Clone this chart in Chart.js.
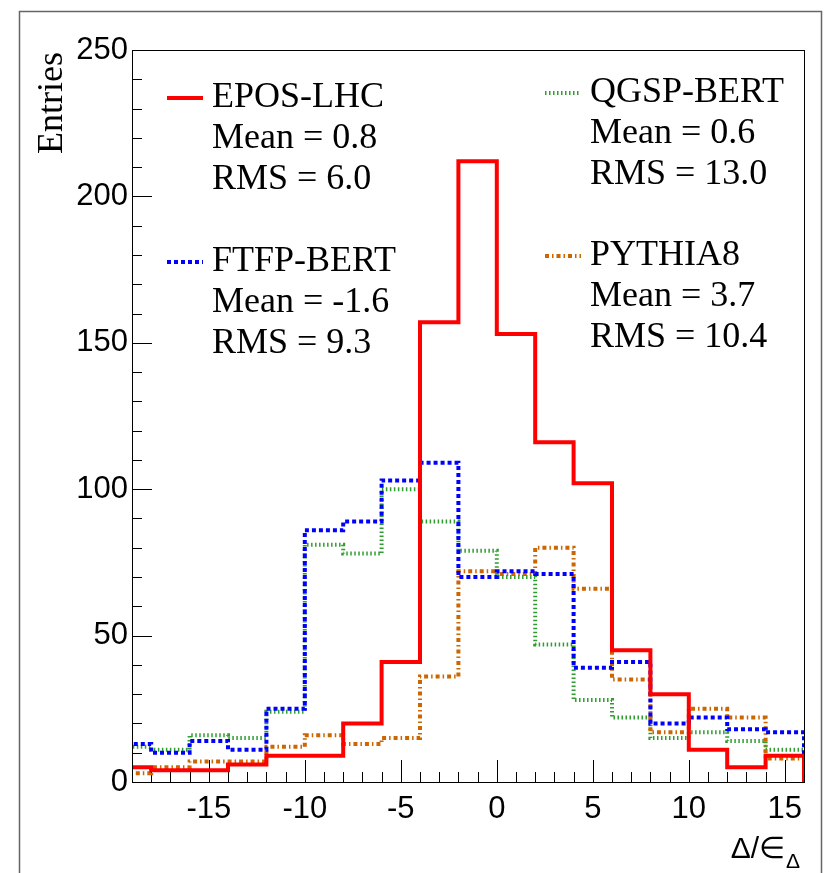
<!DOCTYPE html>
<html>
<head>
<meta charset="utf-8">
<script src="https://cdn.jsdelivr.net/npm/chart.js@4.4.1/dist/chart.umd.min.js"></script>
<style>
  html, body { margin: 0; padding: 0; background: #fff; }
  canvas { display: block; }
</style>
</head>
<body>
<canvas id="histChart" width="832" height="873"></canvas>
<script>
// bins of width 2, given by their low edge
const binLowEdges = [-20, -18, -16, -14, -12, -10, -8, -6, -4, -2, 0, 2, 4, 6, 8, 10, 12, 14];
const binWidth = 2;

// entries per bin
const eposLhc  = [5, 4, 4, 6, 9, 9, 20, 41, 157, 212, 153, 116, 102, 45, 30, 11, 5, 9];
const ftfpBert = [13, 10, 14, 11, 25, 86, 89, 103, 109, 70, 72, 71, 39, 41, 20, 22, 18, 17];
const qgspBert = [12, 11, 16, 15, 24, 81, 78, 100, 89, 79, 70, 47, 28, 22, 15, 17, 14, 11];
const pythia8  = [3, 5, 7, 7, 12, 16, 13, 15, 36, 72, 71, 80, 66, 35, 17, 25, 22, 8];

const seriesNames = ['EPOS-LHC', 'FTFP-BERT', 'QGSP-BERT', 'PYTHIA8'];
const seriesMeans = ['0.8', '-1.6', '0.6', '3.7'];
const seriesRms   = ['6.0', '9.3', '13.0', '10.4'];

const xTickValues = [-15, -10, -5, 0, 5, 10, 15];
const yTickValues = [0, 50, 100, 150, 200, 250];

// turn bin contents into points for a stepped line (drop to 0 at the last edge)
function toSteps(values) {
  const pts = values.map((v, i) => ({ x: binLowEdges[i], y: v }));
  const lastEdge = binLowEdges[binLowEdges.length - 1] + binWidth;
  pts.push({ x: lastEdge, y: values[values.length - 1] });
  pts.push({ x: lastEdge, y: 0 });
  return pts;
}

const styles = {
  'EPOS-LHC':  { color: '#ff0000', dash: [] },
  'FTFP-BERT': { color: '#0000ff', dash: [4, 3] },
  'QGSP-BERT': { color: '#2f9e2f', dash: [1.5, 2.5] },
  'PYTHIA8':   { color: '#cc6600', dash: [4, 3, 1.5, 3] }
};

function makeDataset(name, values) {
  return {
    label: name,
    data: toSteps(values),
    borderColor: styles[name].color,
    borderDash: styles[name].dash,
    borderWidth: 4,
    stepped: true,
    fill: false,
    pointRadius: 0,
    tension: 0
  };
}

// frame, inner tick marks and axis titles, ROOT style
const rootFrame = {
  id: 'rootFrame',
  beforeDraw(chart) {
    const ctx = chart.ctx;
    ctx.save();
    ctx.strokeStyle = '#666';
    ctx.lineWidth = 1.5;
    ctx.beginPath();
    ctx.moveTo(19.5, 900);
    ctx.lineTo(19.5, 11.5);
    ctx.lineTo(821.5, 11.5);
    ctx.lineTo(821.5, 900);
    ctx.stroke();
    ctx.restore();
  },
  beforeDatasetsDraw(chart) {
    const { ctx, chartArea, scales: { x, y } } = chart;
    ctx.save();
    ctx.strokeStyle = '#000';
    ctx.lineWidth = 1;
    ctx.beginPath();
    for (let v = Math.ceil(x.min); v <= x.max; v++) {
      const px = Math.round(x.getPixelForValue(v)) + 0.5;
      const len = v % 5 === 0 ? 22 : 10;
      ctx.moveTo(px, chartArea.bottom);
      ctx.lineTo(px, chartArea.bottom - len);
    }
    for (let v = y.min; v <= y.max; v += 10) {
      const py = Math.round(y.getPixelForValue(v)) + 0.5;
      const len = v % 50 === 0 ? 20 : 10;
      ctx.moveTo(chartArea.left, py);
      ctx.lineTo(chartArea.left + len, py);
    }
    ctx.stroke();
    ctx.restore();
  },
  afterDatasetsDraw(chart) {
    const { ctx, chartArea } = chart;
    ctx.save();
    ctx.strokeStyle = '#000';
    ctx.lineWidth = 1;
    ctx.strokeRect(chartArea.left + 0.5, chartArea.top + 0.5,
                   chartArea.right - chartArea.left, chartArea.bottom - chartArea.top);

    // y title
    ctx.fillStyle = '#000';
    ctx.font = '36px "Liberation Serif"';
    ctx.translate(62, 52);
    ctx.rotate(-Math.PI / 2);
    ctx.textAlign = 'right';
    ctx.textBaseline = 'alphabetic';
    ctx.fillText('Entries', 0, 0);
    ctx.restore();

    // x title
    ctx.save();
    ctx.fillStyle = '#000';
    ctx.textBaseline = 'alphabetic';
    ctx.font = '30px "Liberation Sans"';
    const main = 'Δ/∈';
    const w = ctx.measureText(main).width;
    const x0 = 785 - w;
    ctx.fillText(main, x0, 858);
    ctx.font = '21px "Liberation Sans"';
    ctx.fillText('Δ', x0 + w + 1, 868);
    ctx.restore();
  }
};

// legend blocks: sample line + name, mean and rms lines
const statsLegend = {
  id: 'statsLegend',
  afterDatasetsDraw(chart) {
    const ctx = chart.ctx;
    const blocks = [
      { i: 0, sx: 167, tx: 212, base: 107 },
      { i: 1, sx: 167, tx: 212, base: 271 },
      { i: 2, sx: 545, tx: 590, base: 102 },
      { i: 3, sx: 545, tx: 590, base: 265 }
    ];
    ctx.save();
    blocks.forEach(b => {
      const name = seriesNames[b.i];
      ctx.strokeStyle = styles[name].color;
      ctx.setLineDash(styles[name].dash);
      ctx.lineWidth = 4;
      ctx.beginPath();
      ctx.moveTo(b.sx, b.base - 9);
      ctx.lineTo(b.sx + 36, b.base - 9);
      ctx.stroke();
      ctx.setLineDash([]);
      ctx.fillStyle = '#000';
      ctx.font = '36px "Liberation Serif"';
      ctx.textBaseline = 'alphabetic';
      ctx.fillText(name, b.tx, b.base);
      ctx.fillText('Mean = ' + seriesMeans[b.i], b.tx, b.base + 41);
      ctx.fillText('RMS = ' + seriesRms[b.i], b.tx, b.base + 82);
    });
    ctx.restore();
  }
};

const ctx = document.getElementById('histChart').getContext('2d');
new Chart(ctx, {
  type: 'line',
  data: {
    datasets: [
      makeDataset('EPOS-LHC', eposLhc),
      makeDataset('FTFP-BERT', ftfpBert),
      makeDataset('PYTHIA8', pythia8),
      makeDataset('QGSP-BERT', qgspBert)
    ]
  },
  options: {
    responsive: false,
    animation: false,
    layout: { padding: { top: 50, right: 28, left: 0, bottom: 0 } },
    plugins: {
      legend: { display: false },
      tooltip: { enabled: false }
    },
    scales: {
      x: {
        type: 'linear',
        min: -19,
        max: 16,
        grid: { display: false, drawTicks: false },
        border: { display: false },
        afterBuildTicks: axis => { axis.ticks = xTickValues.map(v => ({ value: v })); },
        afterFit: axis => { axis.height = 91; },
        ticks: {
          autoSkip: false,
          maxRotation: 0,
          padding: 9,
          color: '#000',
          font: { family: 'Liberation Sans', size: 31 }
        }
      },
      y: {
        type: 'linear',
        min: 0,
        max: 250,
        grid: { display: false, drawTicks: false },
        border: { display: false },
        afterBuildTicks: axis => { axis.ticks = yTickValues.map(v => ({ value: v })); },
        afterFit: axis => { axis.width = 132; },
        ticks: {
          autoSkip: false,
          padding: 4,
          color: '#000',
          font: { family: 'Liberation Sans', size: 31 }
        }
      }
    }
  },
  plugins: [rootFrame, statsLegend]
});
</script>
</body>
</html>
